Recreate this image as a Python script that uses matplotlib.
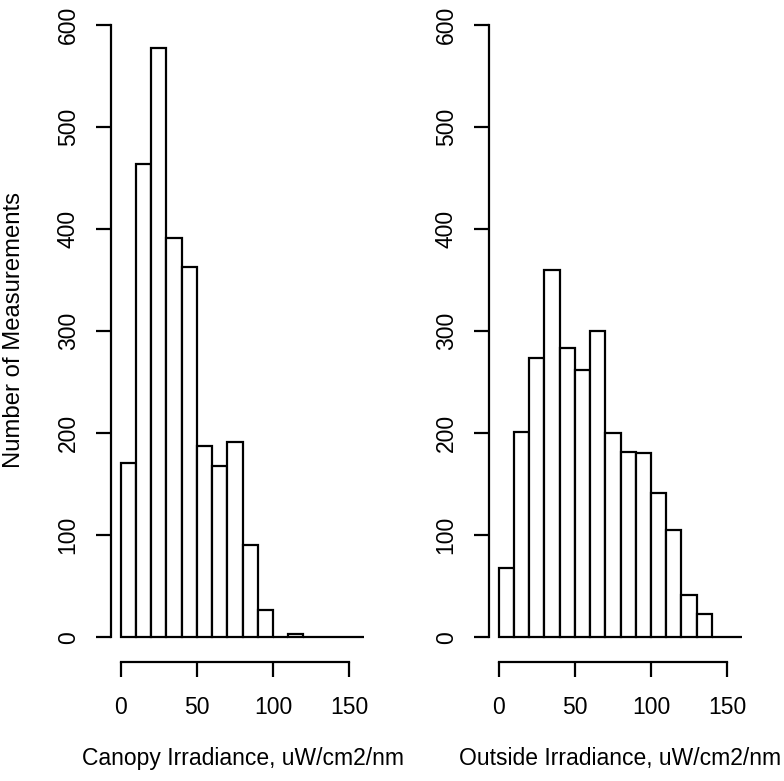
import numpy as np
import matplotlib.pyplot as plt

plt.rcParams['font.family'] = ['Liberation Sans', 'DejaVu Sans']

# histogram counts, 10-unit bins from 0 to 160
bin_edges = np.arange(0, 160, 10)
canopy_counts = [171, 463, 577, 391, 363, 187, 168, 191, 91, 27, 0, 3, 0, 0, 0, 0]
outside_counts = [68, 201, 274, 360, 283, 262, 300, 200, 182, 181, 141, 105, 42, 23, 0, 0]
xlabels = ['Canopy Irradiance, uW/cm2/nm', 'Outside Irradiance, uW/cm2/nm']
ylabel = 'Number of Measurements'

W, H = 784, 781
fig = plt.figure(figsize=(W / 100, H / 100), dpi=100)

FS = 16.5
LW = 1.6

panels = [(111, 374, canopy_counts, xlabels[0]),
          (489, 752, outside_counts, xlabels[1])]

for x0, x1, counts, xlab in panels:
    ax = fig.add_axes([x0 / W, (H - 662) / H, (x1 - x0) / W, 662 / H])
    ax.bar(bin_edges, counts, width=10, align='edge', color='white',
           edgecolor='black', linewidth=LW)
    ax.set_xlim(-6.4, 166.4)
    ax.set_ylim(-24, 624)
    for s in ['top', 'right']:
        ax.spines[s].set_visible(False)
    ax.spines['left'].set_bounds(0, 600)
    ax.spines['bottom'].set_bounds(0, 150)
    ax.spines['left'].set_linewidth(LW)
    ax.spines['bottom'].set_linewidth(LW)
    ax.set_xticks([0, 50, 100, 150])
    ax.set_yticks([0, 100, 200, 300, 400, 500, 600])
    ax.tick_params(axis='both', length=10.5, width=LW, labelsize=FS, pad=14)
    ax.tick_params(axis='y', pad=12)
    for t in ax.get_yticklabels():
        t.set_rotation(90)
        t.set_va('center')
    fig.text((x0 + x1) / 2 / W, 1 - 758 / H, xlab, ha='center', va='center',
             fontsize=FS)

fig.text(14 / W, 1 - 330 / H, ylabel, rotation=90, ha='center', va='center',
         fontsize=17.2)

fig.savefig('out.png', dpi=100)
